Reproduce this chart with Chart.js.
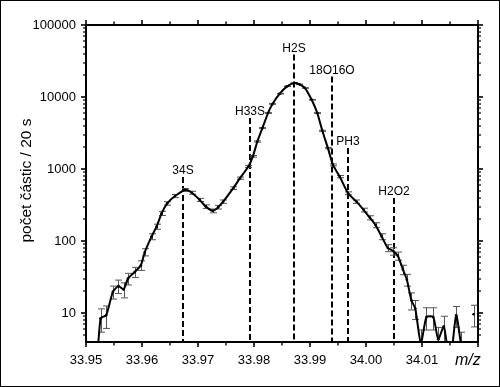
<!DOCTYPE html>
<html>
<head>
<meta charset="utf-8">
<script src="https://cdn.jsdelivr.net/npm/chart.js@4/dist/chart.umd.min.js"></script>
<style>
html,body{margin:0;padding:0;background:#fff;}
canvas{display:block;}
</style>
</head>
<body>
<canvas id="c" width="500" height="387"></canvas>
<script>
// ---- data ----
const mz = [33.9517,33.9526,33.9536,33.9548,33.9558,33.9567,33.9575,33.9587,33.9598,33.9605,
  33.9617,33.9626,33.9635,33.9645,33.9659,33.9677,33.9689,33.9703,33.9714,33.9727,
  33.9736,33.9745,33.9763,33.9775,33.9790,33.9798,33.9806,33.9815,33.9825,33.9833,
  33.9846,33.9859,33.9872,33.9881,33.9891,33.9903,33.9913,33.9922,33.9932,33.9941,
  33.9953,33.9968,33.9983,33.9996,34.0007,34.0017,34.0028,34.0039,34.0049,34.0057,
  34.0066,34.0073,34.0081,34.0088,34.0098,34.0108,34.0120,34.0129,34.0139,34.0150,
  34.0161,34.0170,34.0181,34.0192];
const counts = [1,8.4,9.3,19.6,23.6,21.2,30,37,46,70,
  115,158,242,333,421,512,468,372,300,262,
  295,352,541,745,1080,1500,2408,3700,5985,8000,
  11110,14060,15670,15000,13330,9160,5985,3395,1950,1140,
  784,460,352,269,210,166,115,80,72,62,
  40,29,15,11.5,3.8,8.8,8.8,4.3,6.5,2,
  9.3,3.5,null,9.6];
const errors = [0,3,3.2,4,5,5,5.5,6,7,8,
  11,13,16,18,21,23,22,19,17,16,
  17,19,23,27,33,39,49,61,77,89,
  105,119,125,122,115,96,77,58,44,34,
  28,21,19,16,14,13,11,9,8.5,8,
  6,5.4,4,3.4,2,3,3,2,2.5,0,
  3,1.9,0,3.2];

const peakNames = ['34S','H33S','H2S','18O16O','PH3','H2O2'];
const peakMz    = [33.9673,33.9793,33.9872,33.9940,33.9967,34.0050];
const peakTop   = [776,5100,38800,19200,1950,396];

const xTicks = [33.95,33.96,33.97,33.98,33.99,34.00,34.01,34.02];
const xTickLabels = ['33.95','33.96','33.97','33.98','33.99','34.00','34.01',''];
const xMinorTicks = [33.955,33.965,33.975,33.985,33.995,34.005,34.015];
const yTicks = [10,100,1000,10000,100000];
const yTickLabels = ['10','100','1000','10000','100000'];
const yMinorTicks = [5,6,7,8,9,20,30,40,50,60,70,80,90,200,300,400,500,600,700,800,900,
  2000,3000,4000,5000,6000,7000,8000,9000,20000,30000,40000,50000,60000,70000,80000,90000];

const yTitle = 'počet částic / 20 s';
const xTitle = 'm/z';

const FONT = '"Liberation Sans", Arial, Helvetica, sans-serif';

const points = mz.map((x,i)=>({x:x, y:counts[i]}));

const decor = {
  id:'decor',
  beforeDraw(chart){
    const c = chart.ctx;
    c.save(); c.fillStyle='#fff'; c.fillRect(0,0,chart.width,chart.height); c.restore();
  },
  beforeDatasetsDraw(chart){
    const c = chart.ctx, xs = chart.scales.x, ys = chart.scales.y, a = chart.chartArea;
    c.save();
    c.strokeStyle='#000'; c.lineWidth=2; c.setLineDash([6,3]);
    c.fillStyle='#000'; c.font='12px '+FONT; c.textAlign='center'; c.textBaseline='alphabetic';
    peakMz.forEach((m,i)=>{
      const px = Math.round(xs.getPixelForValue(m));
      const top = ys.getPixelForValue(peakTop[i]);
      c.beginPath(); c.moveTo(px, top); c.lineTo(px, a.bottom); c.stroke();
      c.fillText(peakNames[i], px, top-3);
    });
    c.restore();
    c.save();
    c.beginPath(); c.rect(a.left, a.top, a.right-a.left, a.bottom-a.top); c.clip();
    c.strokeStyle='#555'; c.lineWidth=1;
    mz.forEach((m,i)=>{
      const v = counts[i], e = errors[i];
      if (v==null || !e) return;
      const px = Math.round(xs.getPixelForValue(m))+0.5;
      const lo = Math.max(v-e, 0.5);
      const y1 = ys.getPixelForValue(v+e), y2 = ys.getPixelForValue(lo);
      c.beginPath();
      c.moveTo(px,y1); c.lineTo(px,y2);
      c.moveTo(px-3.5,y1); c.lineTo(px+3.5,y1);
      c.moveTo(px-3.5,y2); c.lineTo(px+3.5,y2);
      c.stroke();
    });
    c.restore();
  },
  afterDraw(chart){
    const c = chart.ctx, xs = chart.scales.x, ys = chart.scales.y, a = chart.chartArea;
    c.save();
    c.strokeStyle='#000'; c.lineWidth=1;
    c.strokeRect(0.5,0.5,chart.width-1,chart.height-1);
    c.lineWidth=2;
    c.strokeRect(a.left, a.top, a.right-a.left, a.bottom-a.top);
    const tick = (x1,y1,x2,y2,w)=>{c.lineWidth=w; c.beginPath(); c.moveTo(x1,y1); c.lineTo(x2,y2); c.stroke();};
    xTicks.forEach(v=>{const p=Math.round(xs.getPixelForValue(v));
      tick(p,a.bottom,p,a.bottom+5,1.6); tick(p,a.top,p,a.top-5,1.6);});
    xMinorTicks.forEach(v=>{const p=Math.round(xs.getPixelForValue(v));
      tick(p,a.bottom,p,a.bottom+3.5,1.4); tick(p,a.top,p,a.top-3.5,1.4);});
    yTicks.forEach(v=>{const p=Math.round(ys.getPixelForValue(v));
      tick(a.left,p,a.left-5,p,1.6); tick(a.right,p,a.right+5,p,1.6);});
    yMinorTicks.forEach(v=>{const p=Math.round(ys.getPixelForValue(v));
      if (p>a.bottom || p<a.top) return;
      tick(a.left,p,a.left-3,p,1.2); tick(a.right,p,a.right+3,p,1.2);});
    c.fillStyle='#000';
    // x tick labels
    c.font='13px '+FONT; c.textAlign='center'; c.textBaseline='alphabetic';
    xTicks.forEach((v,i)=>{ c.fillText(xTickLabels[i], xs.getPixelForValue(v), a.bottom+22); });
    // y title
    c.save();
    c.translate(27, (a.top+a.bottom)/2 - 3);
    c.rotate(-Math.PI/2);
    c.font='15.5px '+FONT; c.textAlign='center'; c.textBaseline='middle';
    c.fillText(yTitle,0,0);
    c.restore();
    c.font='italic 16px '+FONT; c.textAlign='left'; c.textBaseline='alphabetic';
    c.fillText(xTitle, 455, 365);
    c.restore();
  }
};

new Chart(document.getElementById('c'), {
  type:'line',
  data:{ datasets:[{
    data: points, parsing: false,
    borderColor:'#000', borderWidth:2, tension:0.2,
    pointRadius:1.3, pointBackgroundColor:'#000', pointBorderWidth:0,
    spanGaps:false, fill:false
  }]},
  options:{
    responsive:false, animation:false, devicePixelRatio:1,
    layout:{ padding:{ left:0, right:22, top:25, bottom:0 } },
    plugins:{ legend:{display:false}, tooltip:{enabled:false} },
    scales:{
      x:{ type:'linear', min:33.95, max:34.02,
        afterBuildTicks(s){ s.ticks = xTicks.map(v=>({value:v})); },
        afterFit(s){ s.height = 45; },
        ticks:{ display:false },
        grid:{ display:false, drawTicks:false }, border:{ display:false } },
      y:{ type:'logarithmic', min:3.95, max:100000,
        afterBuildTicks(s){ s.ticks = yTicks.map(v=>({value:v})); },
        afterFit(s){ s.width = 86; },
        ticks:{ autoSkip:false, padding:10, color:'#000',
          font:{ size:13, family:FONT },
          callback(v){ const i = yTicks.indexOf(v); return i>=0 ? yTickLabels[i] : ''; } },
        grid:{ display:false, drawTicks:false }, border:{ display:false } }
    }
  },
  plugins:[decor]
});
</script>
</body>
</html>
